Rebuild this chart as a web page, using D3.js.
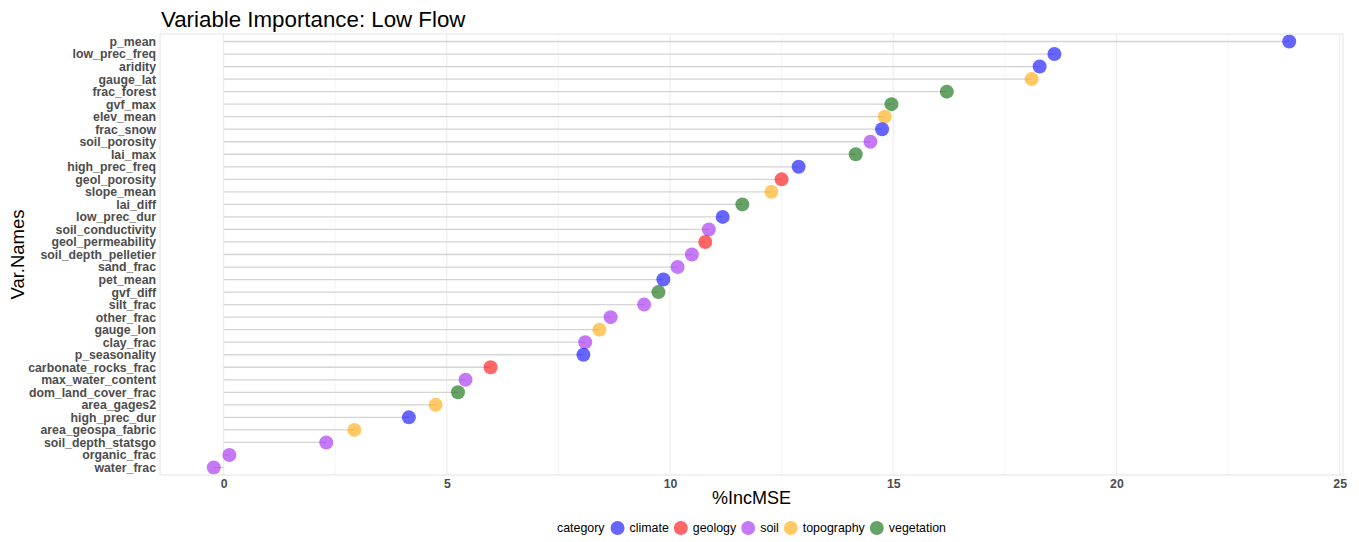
<!DOCTYPE html>
<html>
<head>
<meta charset="utf-8">
<script src="https://cdn.jsdelivr.net/npm/d3@7"></script>
<style>
  html, body { margin: 0; padding: 0; background: #ffffff; }
  svg { display: block; font-family: "Liberation Sans", Arial, Helvetica, sans-serif; }
</style>
</head>
<body>
<svg id="chart" width="1359" height="542"></svg>
<script>
// Random forest variable importance (%IncMSE) for the low-flow model
const varNames = [
  "p_mean", "low_prec_freq", "aridity", "gauge_lat", "frac_forest", "gvf_max",
  "elev_mean", "frac_snow", "soil_porosity", "lai_max", "high_prec_freq",
  "geol_porosity", "slope_mean", "lai_diff", "low_prec_dur", "soil_conductivity",
  "geol_permeability", "soil_depth_pelletier", "sand_frac", "pet_mean", "gvf_diff",
  "silt_frac", "other_frac", "gauge_lon", "clay_frac", "p_seasonality",
  "carbonate_rocks_frac", "max_water_content", "dom_land_cover_frac", "area_gages2",
  "high_prec_dur", "area_geospa_fabric", "soil_depth_statsgo", "organic_frac", "water_frac"
];

const incMSE = [
  23.87, 18.61, 18.28, 18.10, 16.20, 14.96,
  14.81, 14.75, 14.49, 14.16, 12.88,
  12.50, 12.27, 11.62, 11.18, 10.87,
  10.79, 10.49, 10.17, 9.85, 9.74,
  9.42, 8.67, 8.42, 8.10, 8.06,
  5.98, 5.42, 5.25, 4.75,
  4.15, 2.93, 2.30, 0.13, -0.22
];

const varCategory = [
  "climate", "climate", "climate", "topography", "vegetation", "vegetation",
  "topography", "climate", "soil", "vegetation", "climate",
  "geology", "topography", "vegetation", "climate", "soil",
  "geology", "soil", "soil", "climate", "vegetation",
  "soil", "soil", "topography", "soil", "climate",
  "geology", "soil", "vegetation", "topography",
  "climate", "topography", "soil", "soil", "soil"
];

const categories = ["climate", "geology", "soil", "topography", "vegetation"];
const categoryColors = ["#0000ff", "#ff0000", "#a020f0", "#ffa500", "#006400"];

const xTicks = [0, 5, 10, 15, 20, 25];
const xMinorTicks = [2.5, 7.5, 12.5, 17.5, 22.5];

const rows = varNames.map((name, i) => ({ name, value: incMSE[i], category: varCategory[i] }));

const svg = d3.select("#chart");
const panel = { left: 160, right: 1343, top: 34, bottom: 475 };

// Continuous scale with 5% expansion on both sides
const ext = d3.extent(incMSE);
const pad = (ext[1] - ext[0]) * 0.05;
const x = d3.scaleLinear()
  .domain([ext[0] - pad, ext[1] + pad])
  .range([panel.left, panel.right]);

const y = d3.scalePoint()
  .domain(varNames)
  .range([panel.top, panel.bottom])
  .padding(0.6);

const color = d3.scaleOrdinal().domain(categories).range(categoryColors);

// Grid lines
const grid = svg.append("g");
grid.selectAll("line.minor")
  .data(xMinorTicks)
  .join("line")
  .attr("class", "minor")
  .attr("x1", d => x(d)).attr("x2", d => x(d))
  .attr("y1", panel.top).attr("y2", panel.bottom)
  .attr("stroke", "#f2f2f2").attr("stroke-width", 0.7);
grid.selectAll("line.major")
  .data(xTicks)
  .join("line")
  .attr("class", "major")
  .attr("x1", d => x(d)).attr("x2", d => x(d))
  .attr("y1", panel.top).attr("y2", panel.bottom)
  .attr("stroke", "#ebebeb").attr("stroke-width", 1);

// Lollipop stems from zero
svg.append("g")
  .selectAll("line")
  .data(rows)
  .join("line")
  .attr("x1", x(0))
  .attr("x2", d => x(d.value))
  .attr("y1", d => y(d.name))
  .attr("y2", d => y(d.name))
  .attr("stroke", "#d4d4d4")
  .attr("stroke-width", 1.3);

// Points
svg.append("g")
  .selectAll("circle")
  .data(rows)
  .join("circle")
  .attr("cx", d => x(d.value))
  .attr("cy", d => y(d.name))
  .attr("r", 7)
  .attr("fill", d => color(d.category))
  .attr("fill-opacity", 0.6);

// Panel border
svg.append("rect")
  .attr("x", panel.left).attr("y", panel.top)
  .attr("width", panel.right - panel.left)
  .attr("height", panel.bottom - panel.top)
  .attr("fill", "none")
  .attr("stroke", "#e3e3e3")
  .attr("stroke-width", 1);

// Y axis labels
const yAxis = svg.append("g")
  .attr("transform", `translate(${panel.left},0)`)
  .call(d3.axisLeft(y).tickSize(0).tickPadding(4));
yAxis.select(".domain").remove();
yAxis.selectAll("text")
  .attr("fill", "#4d4d4d")
  .attr("font-size", 12.3)
  .attr("font-weight", "bold")
  .attr("font-family", "Liberation Sans, Arial, sans-serif");

// X axis labels
const xAxis = svg.append("g")
  .attr("transform", `translate(0,${panel.bottom})`)
  .call(d3.axisBottom(x).tickValues(xTicks).tickFormat(d3.format("d")).tickSize(0).tickPadding(4));
xAxis.select(".domain").remove();
xAxis.selectAll("text")
  .attr("fill", "#4d4d4d")
  .attr("font-size", 12.3)
  .attr("font-weight", "bold")
  .attr("font-family", "Liberation Sans, Arial, sans-serif");

// Title and axis titles
svg.append("text")
  .attr("x", 161).attr("y", 27)
  .attr("font-size", 22.3)
  .attr("fill", "#000")
  .text("Variable Importance: Low Flow");

svg.append("text")
  .attr("x", (panel.left + panel.right) / 2).attr("y", 504)
  .attr("text-anchor", "middle")
  .attr("font-size", 18)
  .attr("fill", "#000")
  .text("%IncMSE");

svg.append("text")
  .attr("transform", `translate(24,${(panel.top + panel.bottom) / 2}) rotate(-90)`)
  .attr("text-anchor", "middle")
  .attr("font-size", 18.5)
  .attr("fill", "#000")
  .text("Var.Names");

// Legend, centred under the panel
const legend = svg.append("g");
const legendY = 528;
const titleText = legend.append("text")
  .attr("y", legendY).attr("dy", "0.35em")
  .attr("font-size", 12.4).attr("fill", "#000")
  .text("category");
let cursor = titleText.node().getComputedTextLength() + 6;
categories.forEach(cat => {
  const cx = cursor + 7;
  legend.append("circle")
    .attr("cx", cx).attr("cy", legendY).attr("r", 7)
    .attr("fill", color(cat)).attr("fill-opacity", 0.6);
  const t = legend.append("text")
    .attr("x", cx + 12).attr("y", legendY).attr("dy", "0.35em")
    .attr("font-size", 12.4).attr("fill", "#000")
    .text(cat);
  cursor = cx + 12 + t.node().getComputedTextLength() + 5;
});
const legendWidth = cursor - 5;
legend.attr("transform", `translate(${(panel.left + panel.right) / 2 - legendWidth / 2},0)`);
</script>
</body>
</html>
